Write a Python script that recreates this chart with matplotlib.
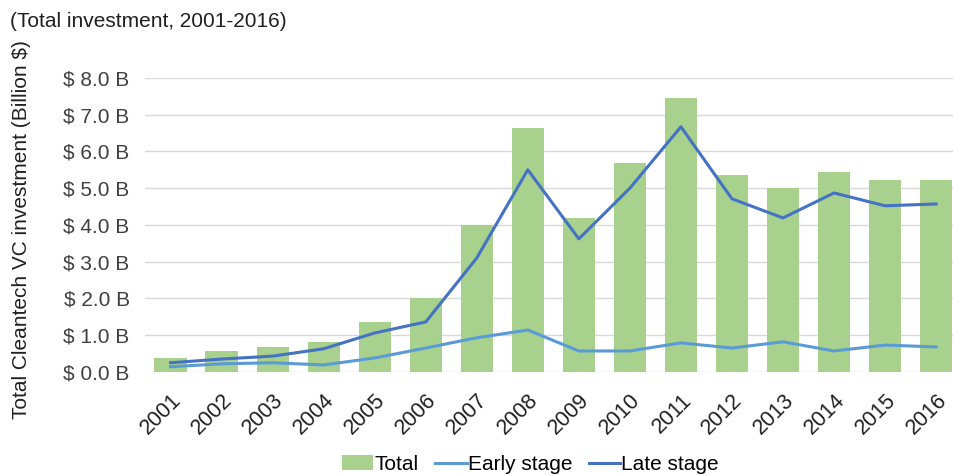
import matplotlib.pyplot as plt
import numpy as np

plt.rcParams['font.family'] = ['Liberation Sans', 'DejaVu Sans']

years = [str(y) for y in range(2001, 2017)]
total = [0.38, 0.57, 0.68, 0.82, 1.36, 2.01, 4.00, 6.64, 4.19, 5.69, 7.46, 5.36, 5.00, 5.44, 5.22, 5.22]
early = [0.14, 0.22, 0.25, 0.19, 0.38, 0.65, 0.93, 1.14, 0.57, 0.57, 0.79, 0.65, 0.82, 0.57, 0.73, 0.68]
late = [0.25, 0.35, 0.43, 0.63, 1.06, 1.36, 3.10, 5.50, 3.62, 5.00, 6.67, 4.71, 4.19, 4.87, 4.52, 4.57]

fig = plt.figure(figsize=(9.54, 4.75), dpi=100)
ax = fig.add_axes([0.152, 0.217, 0.856, 0.619])

x = np.arange(len(years))
b = ax.bar(x, total, width=0.63, color='#A9D18E', label='Total', zorder=2)
l1, = ax.plot(x, early, color='#5B9BD5', lw=2.2, label='Early stage', zorder=3)
l2, = ax.plot(x, late, color='#4472C4', lw=2.2, label='Late stage', zorder=3)

ax.set_xlim(-0.5, 15.5)
ax.set_ylim(0, 8)
ax.set_yticks(np.arange(0, 8.1, 1))
ax.set_yticklabels([f'$ {v:.1f} B' for v in np.arange(0, 8.1, 1)], fontsize=15, color='#404040')
ax.set_xticks(x)
ax.set_xticklabels(years, rotation=45, ha='right', rotation_mode='anchor', fontsize=15.5, color='#202020')
ax.tick_params(axis='both', length=0)
ax.tick_params(axis='y', pad=11)
ax.tick_params(axis='x', pad=13)
ax.grid(axis='y', color='#D9D9D9', lw=1, zorder=0)
for s in ax.spines.values():
    s.set_visible(False)

fig.text(0.023, 0.516, 'Total Cleantech VC investment (Billion $)', fontsize=15, color='#202020',
         rotation=90, ha='center', va='center')
fig.text(0.011, 0.955, '(Total investment, 2001-2016)', fontsize=15, color='#202020', va='center')

fig.legend([b, l1, l2], ['Total', 'Early stage', 'Late stage'], loc='center',
           bbox_to_anchor=(0.556, 0.022), ncol=3, frameon=False, fontsize=15,
           handlelength=1.5, handletextpad=0.05, columnspacing=0.8)

plt.savefig('out.png', dpi=100)
